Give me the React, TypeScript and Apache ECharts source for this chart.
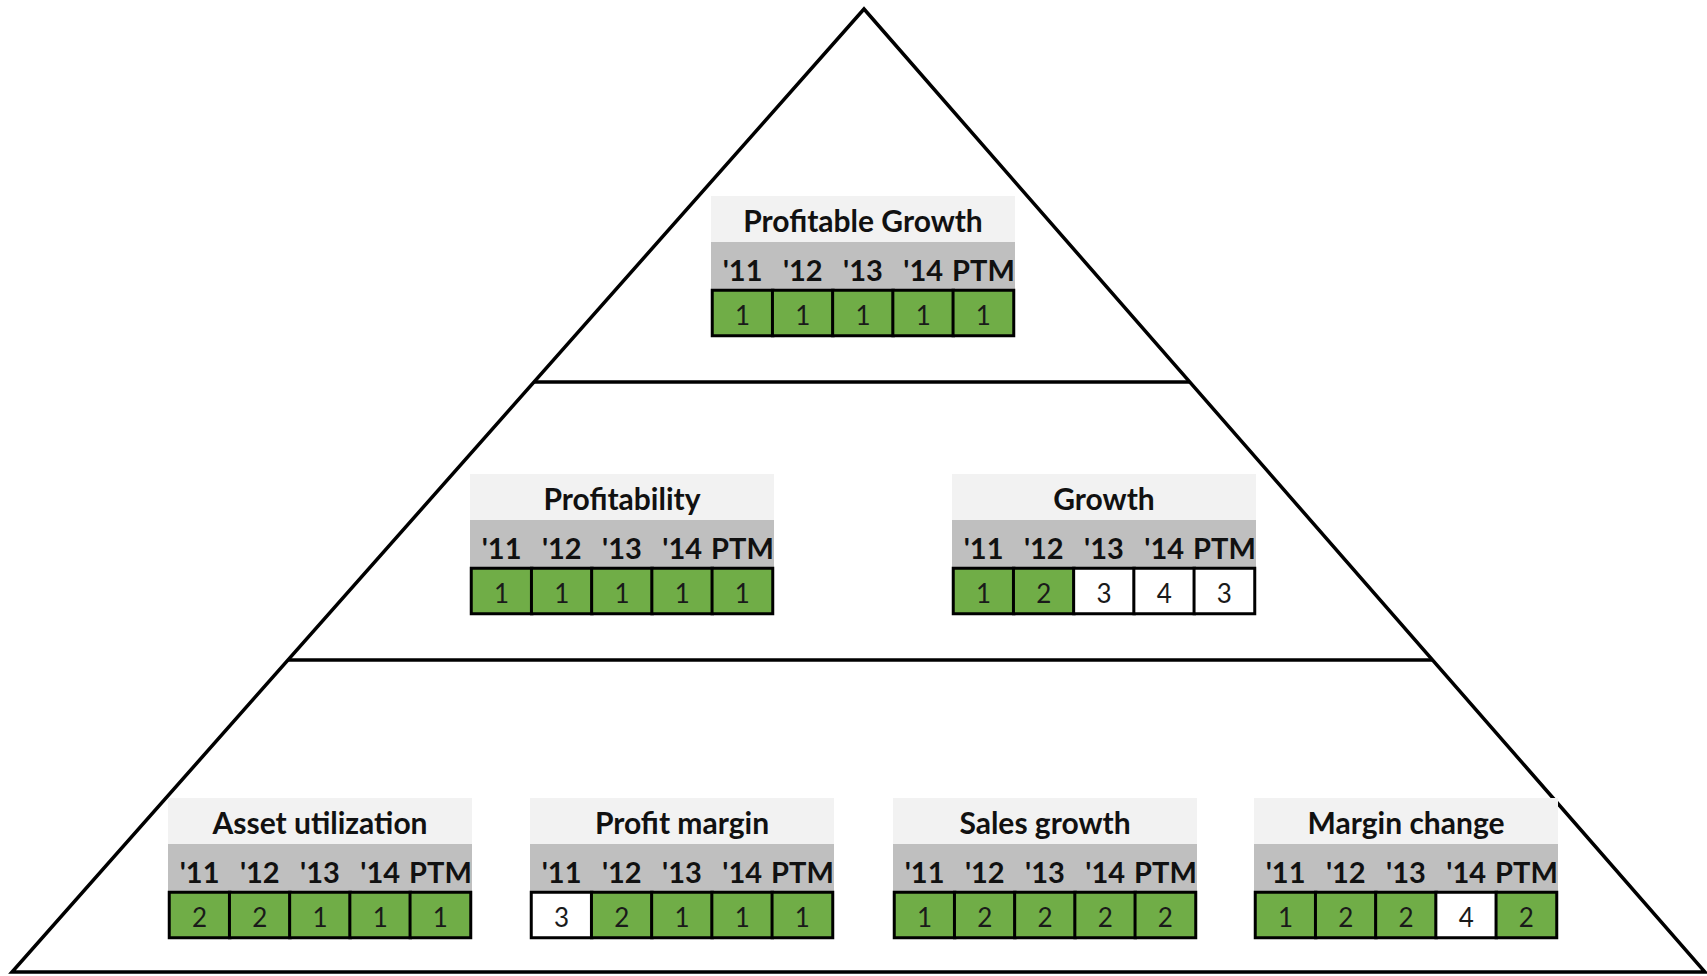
import React, { useEffect, useRef } from "react";
import * as echarts from "echarts";

// ---------- data ----------
const years = ["'11", "'12", "'13", "'14", "PTM"];
const rowName = ["score"];

const profitableGrowth = [1, 1, 1, 1, 1];
const profitability = [1, 1, 1, 1, 1];
const growth = [1, 2, 3, 4, 3];
const assetUtilization = [2, 2, 1, 1, 1];
const profitMargin = [3, 2, 1, 1, 1];
const salesGrowth = [1, 2, 2, 2, 2];
const marginChange = [1, 2, 2, 4, 2];

const tableTitles = [
  "Profitable Growth",
  "Profitability",
  "Growth",
  "Asset utilization",
  "Profit margin",
  "Sales growth",
  "Margin change",
];
const tableValues = [
  profitableGrowth,
  profitability,
  growth,
  assetUtilization,
  profitMargin,
  salesGrowth,
  marginChange,
];

// ---------- layout ----------
const W = 1707;
const H = 976;
const FONT = "Lato, 'Open Sans', 'DejaVu Sans', sans-serif";
const tableLefts = [711, 470, 952, 168, 530, 893, 1254];
const tableTops = [196, 474, 474, 798, 798, 798, 798];
const TABLE_W = 304;
const TITLE_H = 46;
const HEAD_H = 47;
const CELL_H = 48;
const BORDER = 3;
const LINE_W = 3.5;

const apex = [864, 9];
const baseL = [12, 972];
const baseR = [1705, 972];
const tierYs = [382, 660];

function edgeX(y: number, base: number[]) {
  const t = (y - apex[1]) / (base[1] - apex[1]);
  return apex[0] + t * (base[0] - apex[0]);
}

export default function App() {
  const ref = useRef<HTMLDivElement>(null);

  useEffect(() => {
    if (!ref.current) return;
    const chart = echarts.init(ref.current, undefined, { renderer: "svg" });

    const grids: any[] = [];
    const xAxes: any[] = [];
    const yAxes: any[] = [];
    const series: any[] = [];
    const graphics: any[] = [];

    graphics.push({
      type: "polygon",
      z: 1,
      shape: { points: [apex, baseR, baseL] },
      style: { fill: "none", stroke: "#000", lineWidth: LINE_W, lineJoin: "miter" },
    });
    tierYs.forEach((y) => {
      graphics.push({
        type: "line",
        z: 1,
        shape: { x1: edgeX(y, baseL), y1: y, x2: edgeX(y, baseR), y2: y },
        style: { stroke: "#000", lineWidth: LINE_W },
      });
    });

    tableTitles.forEach((title, i) => {
      const left = tableLefts[i];
      const top = tableTops[i];
      const cellTop = top + TITLE_H + HEAD_H;
      graphics.push({
        type: "rect",
        z: 1,
        shape: { x: left, y: top, width: TABLE_W, height: TITLE_H },
        style: { fill: "#F2F2F2" },
      });
      graphics.push({
        type: "rect",
        z: 1,
        shape: { x: left, y: top + TITLE_H, width: TABLE_W, height: HEAD_H },
        style: { fill: "#BFBFBF" },
      });
      graphics.push({
        type: "text",
        z: 2,
        x: left + TABLE_W / 2,
        y: top + 24,
        style: {
          text: title,
          fill: "#111",
          font: `bold 30px ${FONT}`,
          align: "center",
          verticalAlign: "middle",
        },
      });

      grids.push({
        left: left + BORDER / 2,
        top: cellTop + BORDER / 2,
        width: TABLE_W - BORDER,
        height: CELL_H - BORDER,
        containLabel: false,
      });
      xAxes.push({
        type: "category",
        gridIndex: i,
        data: years,
        position: "top",
        z: 10,
        axisLine: { show: false },
        axisTick: { show: false },
        splitLine: { show: false },
        axisLabel: {
          show: true,
          interval: 0,
          margin: 21,
          verticalAlign: "middle",
          fontSize: 29,
          fontWeight: "bold",
          color: "#111",
          fontFamily: FONT,
        },
      });
      yAxes.push({
        type: "category",
        gridIndex: i,
        data: rowName,
        show: false,
      });
      series.push({
        type: "heatmap",
        name: title,
        xAxisIndex: i,
        yAxisIndex: i,
        data: tableValues[i].map((v, j) => [j, 0, v]),
        itemStyle: { borderColor: "#000", borderWidth: BORDER },
        label: {
          show: true,
          formatter: (p: any) => String(p.value[2]),
          fontSize: 26,
          color: "#1a1a1a",
          fontFamily: FONT,
          offset: [0, 2],
        },
        emphasis: { disabled: true },
      });
    });

    chart.setOption({
      animation: false,
      backgroundColor: "#fff",
      grid: grids,
      xAxis: xAxes,
      yAxis: yAxes,
      visualMap: {
        type: "piecewise",
        show: false,
        dimension: 2,
        seriesIndex: series.map((_, k) => k),
        pieces: [
          { lte: 2, color: "#70AD47" },
          { gt: 2, color: "#FFFFFF" },
        ],
      },
      series,
      graphic: { elements: graphics },
    });

    return () => chart.dispose();
  }, []);

  return (
    <div
      ref={ref}
      style={{ position: "fixed", left: 0, top: 0, width: W, height: H, background: "#fff" }}
    />
  );
}
